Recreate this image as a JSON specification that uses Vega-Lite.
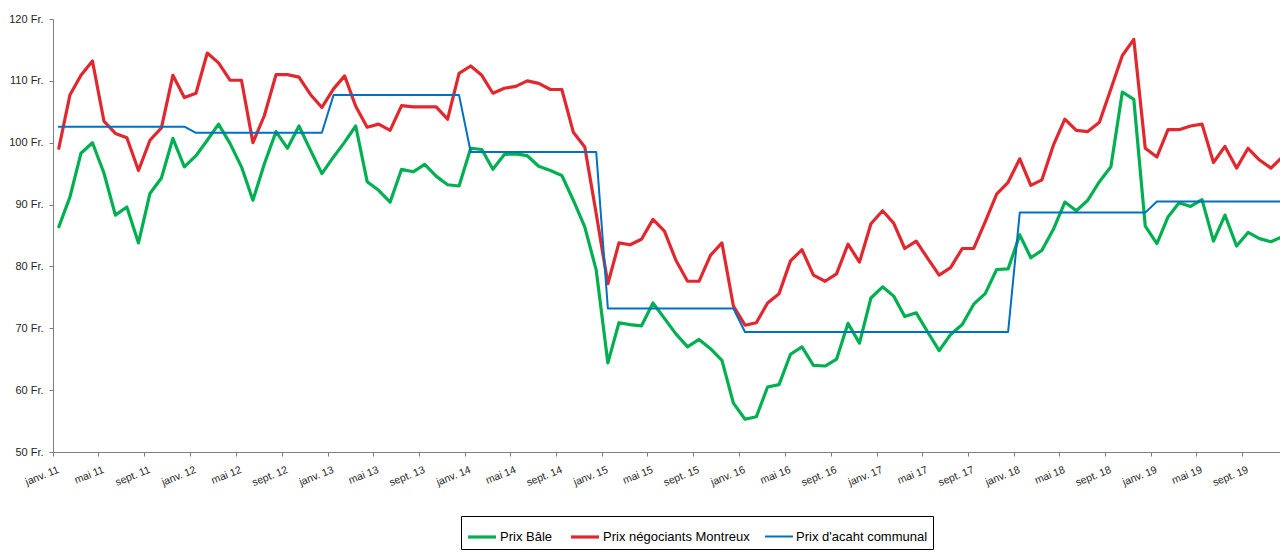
{
"$schema":"https://vega.github.io/schema/vega-lite/v6.json",
"width":1227,"height":433,
"autosize":{"type":"none"},
"padding":{"left":53,"top":19,"right":0,"bottom":102},
"background":"white",
"config":{"view":{"stroke":null},"font":"Liberation Sans"},
"datasets":{"names":[{"key":"b","name":"Prix Bâle"},{"key":"m","name":"Prix négociants Montreux"},{"key":"c","name":"Prix d'acaht communal"}]},
"data":{"values":[
{"date":"2011-01-01","b":86.4,"m":99.1,"c":102.6},
{"date":"2011-02-01","b":91.2,"m":107.7,"c":102.6},
{"date":"2011-03-01","b":98.3,"m":110.9,"c":102.6},
{"date":"2011-04-01","b":100.0,"m":113.2,"c":102.6},
{"date":"2011-05-01","b":95.1,"m":103.5,"c":102.6},
{"date":"2011-06-01","b":88.3,"m":101.5,"c":102.6},
{"date":"2011-07-01","b":89.6,"m":100.8,"c":102.6},
{"date":"2011-08-01","b":83.8,"m":95.5,"c":102.6},
{"date":"2011-09-01","b":91.8,"m":100.4,"c":102.6},
{"date":"2011-10-01","b":94.3,"m":102.4,"c":102.6},
{"date":"2011-11-01","b":100.7,"m":110.9,"c":102.6},
{"date":"2011-12-01","b":96.1,"m":107.3,"c":102.6},
{"date":"2012-01-01","b":97.9,"m":108.0,"c":101.6},
{"date":"2012-02-01","b":100.4,"m":114.5,"c":101.6},
{"date":"2012-03-01","b":103.0,"m":112.9,"c":101.6},
{"date":"2012-04-01","b":99.9,"m":110.1,"c":101.6},
{"date":"2012-05-01","b":96.1,"m":110.1,"c":101.6},
{"date":"2012-06-01","b":90.7,"m":100.0,"c":101.6},
{"date":"2012-07-01","b":96.6,"m":104.4,"c":101.6},
{"date":"2012-08-01","b":101.8,"m":111.0,"c":101.6},
{"date":"2012-09-01","b":99.1,"m":111.0,"c":101.6},
{"date":"2012-10-01","b":102.7,"m":110.6,"c":101.6},
{"date":"2012-11-01","b":98.8,"m":107.8,"c":101.6},
{"date":"2012-12-01","b":95.0,"m":105.7,"c":101.6},
{"date":"2013-01-01","b":97.7,"m":108.7,"c":107.7},
{"date":"2013-02-01","b":100.1,"m":110.8,"c":107.7},
{"date":"2013-03-01","b":102.7,"m":105.9,"c":107.7},
{"date":"2013-04-01","b":93.7,"m":102.5,"c":107.7},
{"date":"2013-05-01","b":92.3,"m":103.0,"c":107.7},
{"date":"2013-06-01","b":90.4,"m":102.0,"c":107.7},
{"date":"2013-07-01","b":95.7,"m":106.0,"c":107.7},
{"date":"2013-08-01","b":95.3,"m":105.8,"c":107.7},
{"date":"2013-09-01","b":96.5,"m":105.8,"c":107.7},
{"date":"2013-10-01","b":94.6,"m":105.8,"c":107.7},
{"date":"2013-11-01","b":93.2,"m":103.8,"c":107.7},
{"date":"2013-12-01","b":93.0,"m":111.2,"c":107.7},
{"date":"2014-01-01","b":99.1,"m":112.4,"c":98.5},
{"date":"2014-02-01","b":98.9,"m":110.9,"c":98.5},
{"date":"2014-03-01","b":95.7,"m":108.0,"c":98.5},
{"date":"2014-04-01","b":98.1,"m":108.8,"c":98.5},
{"date":"2014-05-01","b":98.2,"m":109.1,"c":98.5},
{"date":"2014-06-01","b":97.9,"m":110.0,"c":98.5},
{"date":"2014-07-01","b":96.2,"m":109.6,"c":98.5},
{"date":"2014-08-01","b":95.5,"m":108.6,"c":98.5},
{"date":"2014-09-01","b":94.7,"m":108.6,"c":98.5},
{"date":"2014-10-01","b":90.7,"m":101.7,"c":98.5},
{"date":"2014-11-01","b":86.4,"m":99.3,"c":98.5},
{"date":"2014-12-01","b":79.4,"m":88.5,"c":98.5},
{"date":"2015-01-01","b":64.4,"m":77.2,"c":73.2},
{"date":"2015-02-01","b":70.9,"m":83.8,"c":73.2},
{"date":"2015-03-01","b":70.6,"m":83.5,"c":73.2},
{"date":"2015-04-01","b":70.4,"m":84.4,"c":73.2},
{"date":"2015-05-01","b":74.1,"m":87.6,"c":73.2},
{"date":"2015-06-01","b":71.6,"m":85.7,"c":73.2},
{"date":"2015-07-01","b":69.1,"m":81.0,"c":73.2},
{"date":"2015-08-01","b":67.0,"m":77.6,"c":73.2},
{"date":"2015-09-01","b":68.2,"m":77.6,"c":73.2},
{"date":"2015-10-01","b":66.7,"m":81.8,"c":73.2},
{"date":"2015-11-01","b":64.8,"m":83.8,"c":73.2},
{"date":"2015-12-01","b":57.9,"m":73.6,"c":73.2},
{"date":"2016-01-01","b":55.3,"m":70.5,"c":69.4},
{"date":"2016-02-01","b":55.7,"m":70.9,"c":69.4},
{"date":"2016-03-01","b":60.5,"m":74.1,"c":69.4},
{"date":"2016-04-01","b":60.9,"m":75.6,"c":69.4},
{"date":"2016-05-01","b":65.8,"m":80.9,"c":69.4},
{"date":"2016-06-01","b":67.0,"m":82.7,"c":69.4},
{"date":"2016-07-01","b":64.0,"m":78.6,"c":69.4},
{"date":"2016-08-01","b":63.9,"m":77.6,"c":69.4},
{"date":"2016-09-01","b":65.0,"m":78.8,"c":69.4},
{"date":"2016-10-01","b":70.8,"m":83.6,"c":69.4},
{"date":"2016-11-01","b":67.6,"m":80.7,"c":69.4},
{"date":"2016-12-01","b":74.9,"m":86.9,"c":69.4},
{"date":"2017-01-01","b":76.7,"m":89.0,"c":69.4},
{"date":"2017-02-01","b":75.2,"m":87.0,"c":69.4},
{"date":"2017-03-01","b":71.9,"m":82.9,"c":69.4},
{"date":"2017-04-01","b":72.5,"m":84.1,"c":69.4},
{"date":"2017-05-01","b":69.4,"m":81.3,"c":69.4},
{"date":"2017-06-01","b":66.4,"m":78.6,"c":69.4},
{"date":"2017-07-01","b":69.0,"m":79.8,"c":69.4},
{"date":"2017-08-01","b":70.6,"m":82.9,"c":69.4},
{"date":"2017-09-01","b":73.9,"m":82.9,"c":69.4},
{"date":"2017-10-01","b":75.6,"m":87.2,"c":69.4},
{"date":"2017-11-01","b":79.5,"m":91.7,"c":69.4},
{"date":"2017-12-01","b":79.6,"m":93.6,"c":69.4},
{"date":"2018-01-01","b":85.1,"m":97.4,"c":88.7},
{"date":"2018-02-01","b":81.4,"m":93.1,"c":88.7},
{"date":"2018-03-01","b":82.6,"m":94.0,"c":88.7},
{"date":"2018-04-01","b":86.0,"m":99.6,"c":88.7},
{"date":"2018-05-01","b":90.4,"m":103.8,"c":88.7},
{"date":"2018-06-01","b":89.0,"m":102.0,"c":88.7},
{"date":"2018-07-01","b":90.7,"m":101.8,"c":88.7},
{"date":"2018-08-01","b":93.7,"m":103.3,"c":88.7},
{"date":"2018-09-01","b":96.1,"m":108.7,"c":88.7},
{"date":"2018-10-01","b":108.2,"m":114.1,"c":88.7},
{"date":"2018-11-01","b":107.0,"m":116.7,"c":88.7},
{"date":"2018-12-01","b":86.5,"m":99.1,"c":88.7},
{"date":"2019-01-01","b":83.7,"m":97.7,"c":90.5},
{"date":"2019-02-01","b":88.0,"m":102.1,"c":90.5},
{"date":"2019-03-01","b":90.3,"m":102.1,"c":90.5},
{"date":"2019-04-01","b":89.7,"m":102.7,"c":90.5},
{"date":"2019-05-01","b":90.8,"m":103.0,"c":90.5},
{"date":"2019-06-01","b":84.1,"m":96.8,"c":90.5},
{"date":"2019-07-01","b":88.3,"m":99.4,"c":90.5},
{"date":"2019-08-01","b":83.3,"m":95.9,"c":90.5},
{"date":"2019-09-01","b":85.5,"m":99.1,"c":90.5},
{"date":"2019-10-01","b":84.5,"m":97.2,"c":90.5},
{"date":"2019-11-01","b":84.0,"m":95.9,"c":90.5},
{"date":"2019-12-01","b":84.8,"m":97.7,"c":90.5}
]},
"transform":[
{"fold":["b","m","c"],"as":["key","value"]},
{"lookup":"key","from":{"data":{"name":"names"},"key":"key","fields":["name"]}}
],
"mark":{"type":"line","clip":true,"strokeJoin":"round","strokeCap":"round"},
"encoding":{
"x":{"field":"date","timeUnit":"utcyearmonth","type":"temporal","bandPosition":0.5,
"scale":{"domain":[{"year":2011,"month":1,"date":1,"utc":true},{"year":2019,"month":12,"date":10,"utc":true}]},
"axis":{"title":null,"grid":false,
"values":[{"year":2011,"month":1,"date":1,"utc":true},{"year":2011,"month":5,"date":1,"utc":true},{"year":2011,"month":9,"date":1,"utc":true},
{"year":2012,"month":1,"date":1,"utc":true},{"year":2012,"month":5,"date":1,"utc":true},{"year":2012,"month":9,"date":1,"utc":true},
{"year":2013,"month":1,"date":1,"utc":true},{"year":2013,"month":5,"date":1,"utc":true},{"year":2013,"month":9,"date":1,"utc":true},
{"year":2014,"month":1,"date":1,"utc":true},{"year":2014,"month":5,"date":1,"utc":true},{"year":2014,"month":9,"date":1,"utc":true},
{"year":2015,"month":1,"date":1,"utc":true},{"year":2015,"month":5,"date":1,"utc":true},{"year":2015,"month":9,"date":1,"utc":true},
{"year":2016,"month":1,"date":1,"utc":true},{"year":2016,"month":5,"date":1,"utc":true},{"year":2016,"month":9,"date":1,"utc":true},
{"year":2017,"month":1,"date":1,"utc":true},{"year":2017,"month":5,"date":1,"utc":true},{"year":2017,"month":9,"date":1,"utc":true},
{"year":2018,"month":1,"date":1,"utc":true},{"year":2018,"month":5,"date":1,"utc":true},{"year":2018,"month":9,"date":1,"utc":true},
{"year":2019,"month":1,"date":1,"utc":true},{"year":2019,"month":5,"date":1,"utc":true},{"year":2019,"month":9,"date":1,"utc":true}],
"labelExpr":"['janv.','févr.','mars','avr.','mai','juin','juil.','août','sept.','oct.','nov.','déc.'][utcmonth(datum.value)] + ' ' + utcFormat(datum.value, '%y')",
"labelAngle":-22,"labelAlign":"right","labelBaseline":"middle","labelPadding":13,"labelOffset":5,
"labelFlush":false,"labelOverlap":false,"labelBound":false,
"labelFont":"Liberation Sans","labelFontSize":10.5,"labelColor":"#262626",
"tickSize":4,"tickColor":"#7f7f7f","domainColor":"#7f7f7f"}},
"y":{"field":"value","type":"quantitative",
"scale":{"domain":[50,120],"zero":false,"nice":false},
"axis":{"title":null,"grid":false,"values":[50,60,70,80,90,100,110,120],
"labelExpr":"datum.value + ' Fr.'","tickSize":4,"labelPadding":6,
"labelFont":"Liberation Sans","labelFontSize":11,"labelColor":"#262626",
"tickColor":"#7f7f7f","domainColor":"#7f7f7f","labelFlush":false,"labelOverlap":false}},
"color":{"field":"name","type":"nominal",
"scale":{"domain":["Prix Bâle","Prix négociants Montreux","Prix d'acaht communal"],"range":["#00B050","#E0282E","#0070C0"]},
"legend":{"title":null,"orient":"none","legendX":408,"legendY":497,"direction":"horizontal","strokeColor":"#000000","fillColor":"#ffffff","padding":5,"symbolType":"stroke","symbolSize":784,"labelFont":"Liberation Sans","labelFontSize":13,"labelColor":"#000000","labelOffset":2,"columnPadding":11}},
"strokeWidth":{"field":"name","type":"nominal",
"scale":{"type":"ordinal","domain":["Prix Bâle","Prix négociants Montreux","Prix d'acaht communal"],"range":[3.2,3.2,2]},
"legend":{"title":null,"orient":"none","legendX":408,"legendY":497,"direction":"horizontal","strokeColor":"#000000","fillColor":"#ffffff","padding":5,"symbolType":"stroke","symbolSize":784,"labelFont":"Liberation Sans","labelFontSize":13,"labelColor":"#000000","labelOffset":2,"columnPadding":11}}
}
}
